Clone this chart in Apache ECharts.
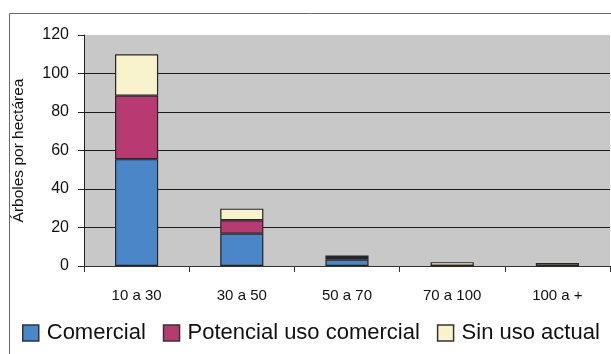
<!DOCTYPE html>
<html>
<head>
<meta charset="utf-8">
<script src="https://cdn.jsdelivr.net/npm/echarts@6/dist/echarts.min.js"></script>
<style>
  html, body { margin: 0; padding: 0; background: #fff; }
  #chart { width: 611px; height: 354px; }
</style>
</head>
<body>
<div id="chart"></div>
<script>
// Diameter classes (cm)
const categories = ['10 a 30', '30 a 50', '50 a 70', '70 a 100', '100 a +'];
// Trees per hectare by use class
const comercial = [55.5, 16.8, 3.3, 0.1, 0.1];
const potencial = [33, 7, 0.9, 0.1, 0.1];
const sinUso = [21.5, 6, 1.2, 1.8, 1.3];
const yTicks = [0, 20, 40, 60, 80, 100, 120];

const font = 'Liberation Sans, Arial, sans-serif';
const chart = echarts.init(document.getElementById('chart'));

const barStyle = (color) => ({ color: color, borderColor: '#262626', borderWidth: 1.2 });

chart.setOption({
  animation: false,
  graphic: [{
    type: 'rect',
    shape: { x: 9.5, y: 13.5, width: 620, height: 360 },
    style: { fill: 'none', stroke: '#6a6a6a', lineWidth: 1 },
    z: -1
  }],
  grid: {
    left: 84, top: 35, width: 526, height: 231,
    show: true, backgroundColor: '#c8c8c8', borderWidth: 0
  },
  legend: {
    left: 22, top: 322, padding: 0,
    itemWidth: 16, itemHeight: 16, itemGap: 17,
    icon: 'rect',
    textStyle: { fontFamily: font, fontSize: 22, color: '#111', padding: [0, 0, 0, 3] },
    data: ['Comercial', 'Potencial uso comercial', 'Sin uso actual'],
    itemStyle: { borderColor: '#333', borderWidth: 1.5 }
  },
  xAxis: {
    type: 'category',
    data: categories,
    axisLine: { lineStyle: { color: '#333', width: 1 } },
    axisTick: { show: true, length: 6, lineStyle: { color: '#333' } },
    axisLabel: { fontFamily: font, fontSize: 15, color: '#111', margin: 22 }
  },
  yAxis: {
    type: 'value',
    min: yTicks[0], max: yTicks[yTicks.length - 1], interval: 20,
    name: 'Árboles por hectárea',
    nameLocation: 'middle',
    nameGap: 57,
    nameTextStyle: { fontFamily: font, fontSize: 15.5, color: '#111', padding: [0, 0, 0, 0] },
    axisLine: { show: true, lineStyle: { color: '#222', width: 1 } },
    axisTick: { show: true, length: 6, lineStyle: { color: '#222' } },
    axisLabel: { fontFamily: font, fontSize: 16, color: '#111', margin: 15 },
    splitLine: {
      show: true,
      lineStyle: { color: '#1a1a1a', width: 1 },
      showMinLine: false, showMaxLine: false
    }
  },
  series: [
    { name: 'Comercial', type: 'bar', stack: 'total', barWidth: '41%', data: comercial, itemStyle: barStyle('#4a86c8') },
    { name: 'Potencial uso comercial', type: 'bar', stack: 'total', data: potencial, itemStyle: barStyle('#b83a72') },
    { name: 'Sin uso actual', type: 'bar', stack: 'total', data: sinUso, itemStyle: barStyle('#f8f3cc') }
  ]
});
</script>
</body>
</html>
